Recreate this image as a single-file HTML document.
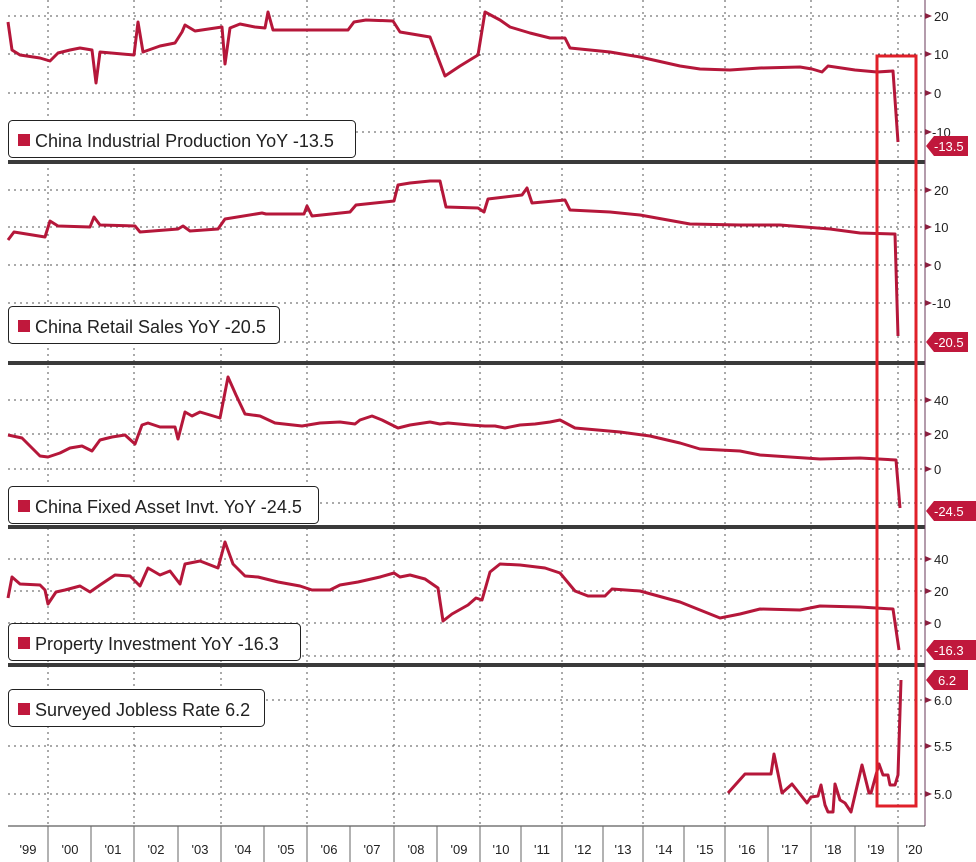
<!DOCTYPE html>
<html><head><meta charset="utf-8"><style>
html,body{margin:0;padding:0;background:#fff;}
svg{display:block;font-family:"Liberation Sans","DejaVu Sans",sans-serif;}
.g{stroke:#555;stroke-width:1;stroke-dasharray:2,4;fill:none}
.s{stroke:#b5173a;stroke-width:3;fill:none;stroke-linejoin:round}
.t{font-size:13px;fill:#222}
.lb{font-size:18px;fill:#222}
.sep{stroke:#3a3a3a;stroke-width:4}
</style></head><body>
<svg width="976" height="862" viewBox="0 0 976 862" xmlns="http://www.w3.org/2000/svg">
<g class="g">
<path d="M48 0V826M134 0V826M221 0V826M307 0V826M394 0V826M480 0V826M562 0V826M643 0V826M725 0V826M811 0V826M898 0V826"/>
<path d="M8 16H925M8 54H925M8 93H925M8 132H925"/>
<path d="M8 190H925M8 227H925M8 265H925M8 303H925M8 342H925"/>
<path d="M8 400H925M8 434H925M8 469H925M8 503H925"/>
<path d="M8 559H925M8 591H925M8 623H925M8 656H925"/>
<path d="M8 700H925M8 746H925M8 794H925"/>
</g>
<line class="sep" x1="8" y1="162" x2="925" y2="162"/>
<line class="sep" x1="8" y1="363" x2="925" y2="363"/>
<line class="sep" x1="8" y1="527" x2="925" y2="527"/>
<line class="sep" x1="8" y1="665" x2="925" y2="665"/>
<line x1="925" y1="0" x2="925" y2="826" stroke="#6a3a5a" stroke-width="1"/>
<line x1="8" y1="826" x2="925" y2="826" stroke="#333" stroke-width="1"/>
<g stroke="#666" stroke-width="1">
<path d="M48 826V862M91 826V862M134 826V862M178 826V862M221 826V862M264 826V862M307 826V862M350 826V862M394 826V862M437 826V862M480 826V862M521 826V862M562 826V862M603 826V862M643 826V862M684 826V862M725 826V862M768 826V862M811 826V862M855 826V862M898 826V862"/>
</g>
<g class="t" text-anchor="middle" font-size="13">
<text x="28" y="854">'99</text><text x="70" y="854">'00</text><text x="113" y="854">'01</text><text x="156" y="854">'02</text><text x="200" y="854">'03</text><text x="243" y="854">'04</text><text x="286" y="854">'05</text><text x="329" y="854">'06</text><text x="372" y="854">'07</text><text x="416" y="854">'08</text><text x="459" y="854">'09</text><text x="501" y="854">'10</text><text x="542" y="854">'11</text><text x="583" y="854">'12</text><text x="623" y="854">'13</text><text x="664" y="854">'14</text><text x="705" y="854">'15</text><text x="747" y="854">'16</text><text x="790" y="854">'17</text><text x="833" y="854">'18</text><text x="876" y="854">'19</text><text x="914" y="854">'20</text>
</g>
<g fill="#8a2040">
<path d="M925 13l7 3-7 3zM925 51l7 3-7 3zM925 90l7 3-7 3zM925 129l7 3-7 3zM925 187l7 3-7 3zM925 224l7 3-7 3zM925 262l7 3-7 3zM925 300l7 3-7 3zM925 397l7 3-7 3zM925 431l7 3-7 3zM925 466l7 3-7 3zM925 556l7 3-7 3zM925 588l7 3-7 3zM925 620l7 3-7 3zM925 697l7 3-7 3zM925 743l7 3-7 3zM925 791l7 3-7 3z"/>
</g>
<g class="t">
<text x="934" y="21">20</text><text x="934" y="59">10</text><text x="934" y="98">0</text><text x="932" y="137">-10</text>
<text x="934" y="195">20</text><text x="934" y="232">10</text><text x="934" y="270">0</text><text x="932" y="308">-10</text>
<text x="934" y="405">40</text><text x="934" y="439">20</text><text x="934" y="474">0</text>
<text x="934" y="564">40</text><text x="934" y="596">20</text><text x="934" y="628">0</text>
<text x="934" y="705">6.0</text><text x="934" y="751">5.5</text><text x="934" y="799">5.0</text>
</g>
<g fill="#c0183c">
<path d="M926 146l8-10h34v20h-34z"/>
<path d="M926 342l8-10h34v20h-34z"/>
<path d="M926 511l8-10h42v20h-42z"/>
<path d="M926 650l8-10h42v20h-42z"/>
<path d="M926 680l8-10h34v20h-34z"/>
</g>
<g font-size="13" fill="#fff">
<text x="934" y="151">-13.5</text><text x="934" y="347">-20.5</text><text x="934" y="516">-24.5</text><text x="934" y="655">-16.3</text><text x="938" y="685">6.2</text>
</g>
<polyline class="s" points="8,22 12,50 20,55 40,58 50,61 58,53 70,50 80,48 92,50 96,83 100,52 134,55 138,22 143,52 160,46 175,43 182,32 185,25 195,31 222,27 225,64 230,28 240,24 255,27 265,28 268,12 273,30 300,30 348,30 354,22 366,20 393,21 400,32 430,37 445,76 460,66 478,55 485,12 500,20 510,27 530,33 550,38 565,38 570,48 590,50 610,52 640,57 680,66 700,69 730,70 760,68 800,67 812,69 822,72 828,66 855,70 877,72 893,71 898,142"/>
<polyline class="s" points="8,240 14,232 45,237 50,221 58,226 90,227 94,217 100,225 135,226 140,232 178,229 183,226 190,231 218,229 225,219 262,213 266,214 304,214 307,206 312,216 350,212 356,205 394,201 398,185 410,183 430,181 440,181 446,207 478,208 484,212 488,199 522,195 527,188 532,203 565,200 570,210 610,212 640,215 690,224 740,225 780,225 830,229 860,233 895,234 898,336"/>
<polyline class="s" points="8,435 22,438 40,456 48,457 60,453 70,448 82,446 92,451 100,440 112,437 125,435 135,444 142,425 148,423 160,427 175,427 178,439 185,412 192,416 200,412 220,418 228,377 236,395 245,414 260,416 275,423 302,426 320,423 340,422 355,424 360,420 372,416 382,420 398,428 410,425 430,422 440,424 448,423 470,425 485,426 495,426 505,428 520,425 535,424 550,422 560,420 575,428 620,432 650,436 680,443 700,449 740,451 760,455 820,459 860,458 896,460 900,508"/>
<polyline class="s" points="8,598 12,577 20,584 40,585 45,590 48,604 56,592 65,590 80,586 90,592 100,585 115,575 130,576 140,586 148,568 160,575 170,571 180,584 185,564 200,561 218,568 225,542 233,564 245,576 258,577 278,582 300,586 312,590 330,590 340,585 358,582 380,577 394,573 400,577 410,575 425,579 438,588 443,621 452,614 468,605 476,598 482,600 490,572 500,564 520,565 545,568 560,573 575,591 588,596 605,596 612,589 640,591 680,602 700,610 720,618 740,614 760,609 800,610 820,606 860,607 893,609 899,650"/>
<polyline class="s" points="728,793 745,774 771,774 774,754 782,793 792,784 807,803 811,797 818,796 821,785 825,805 828,812 833,812 835,784 840,800 845,803 851,812 862,765 869,793 871,793 879,764 883,775 888,775 890,785 895,785 898,775 901,680"/>
<g fill="#fff" stroke="#222" stroke-width="1">
<rect x="8.5" y="120.5" width="347" height="37" rx="4"/>
<rect x="8.5" y="306.5" width="271" height="37" rx="4"/>
<rect x="8.5" y="486.5" width="310" height="37" rx="4"/>
<rect x="8.5" y="623.5" width="292" height="37" rx="4"/>
<rect x="8.5" y="689.5" width="256" height="37" rx="4"/>
</g>
<g fill="#c0183c">
<rect x="18" y="134" width="12" height="12"/><rect x="18" y="320" width="12" height="12"/><rect x="18" y="500" width="12" height="12"/><rect x="18" y="637" width="12" height="12"/><rect x="18" y="703" width="12" height="12"/>
</g>
<g class="lb">
<text x="35" y="147">China Industrial Production YoY -13.5</text>
<text x="35" y="333">China Retail Sales YoY -20.5</text>
<text x="35" y="513">China Fixed Asset Invt. YoY -24.5</text>
<text x="35" y="650">Property Investment YoY -16.3</text>
<text x="35" y="716">Surveyed Jobless Rate 6.2</text>
</g>
<rect x="877" y="56" width="39" height="750" fill="none" stroke="#e0202a" stroke-width="3"/>
</svg>
</body></html>
